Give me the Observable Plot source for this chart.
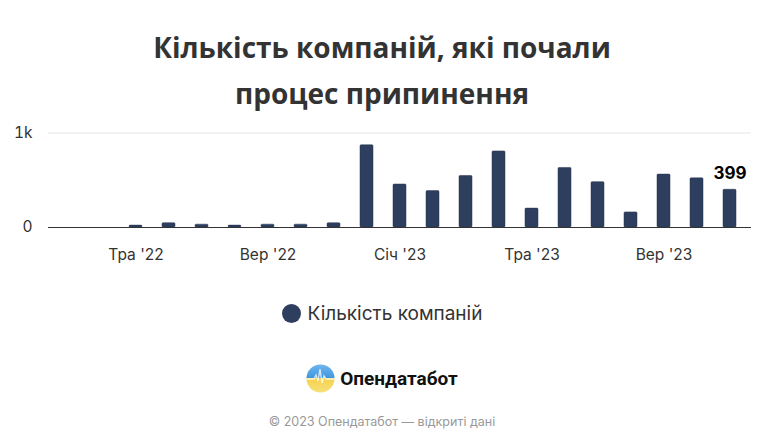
<!DOCTYPE html>
<html>
<head>
<meta charset="utf-8">
<script src="https://cdn.jsdelivr.net/npm/d3@7"></script>
<script src="https://cdn.jsdelivr.net/npm/@observablehq/plot@0.6"></script>
<style>
  html, body { margin: 0; padding: 0; background: #fff; }
  #page { position: relative; width: 764px; height: 446px; overflow: hidden; font-family: Inter, "Noto Sans", sans-serif; }
  .title { position: absolute; left: 0; width: 764px; text-align: center; font-family: "Open Sans", sans-serif; font-weight: 700; font-size: 28px; color: #333; line-height: 34px; }
  #chart { position: absolute; left: 0; top: 110px; }
  #legend { position: absolute; left: 0; width: 764px; top: 301px; text-align: center; font-size: 19px; color: #333; line-height: 26px; }
  #legend .dot { display: inline-block; width: 19px; height: 19px; border-radius: 50%; background: #2e3e5f; vertical-align: -3px; margin-right: 7px; }
  #logo { position: absolute; left: 0; width: 764px; top: 362px; text-align: center; line-height: 30px; }
  #logo svg { vertical-align: middle; margin-right: 5px; }
  #logo span { font-family: Roboto, sans-serif; font-weight: 700; font-size: 19px; color: #111; vertical-align: middle; }
  #footer { position: absolute; left: 0; width: 764px; top: 413px; text-align: center; font-size: 12.5px; color: #999; line-height: 18px; }
</style>
</head>
<body>
<div id="page">
  <div class="title" style="top:30px">Кількість компаній, які почали</div>
  <div class="title" style="top:76px">процес припинення</div>
  <div id="chart"></div>
  <div id="legend"><span class="dot"></span>Кількість компаній</div>
  <div id="logo"><svg width="29" height="29" viewBox="0 0 29 29">
    <defs>
      <linearGradient id="lg" x1="0" y1="0" x2="0" y2="1">
        <stop offset="0" stop-color="#6fb6ef"/>
        <stop offset="0.5" stop-color="#3d95de"/>
        <stop offset="0.5" stop-color="#f5d24c"/>
        <stop offset="1" stop-color="#f7e07a"/>
      </linearGradient>
      <clipPath id="cc"><circle cx="14.5" cy="14.5" r="14"/></clipPath>
    </defs>
    <circle cx="14.5" cy="14.5" r="14" fill="url(#lg)"/>
    <polyline clip-path="url(#cc)" points="0,15 8,15 10,11 12,17 14,5 16,19 18,12 20,15 29,15" fill="none" stroke="#fff" stroke-opacity="0.75" stroke-width="1.4"/>
  </svg><span>Опендатабот</span></div>
  <div id="footer">© 2023 Опендатабот — відкриті дані</div>
</div>
<script>
const months = ["2022-03","2022-04","2022-05","2022-06","2022-07","2022-08","2022-09","2022-10","2022-11","2022-12",
                "2023-01","2023-02","2023-03","2023-04","2023-05","2023-06","2023-07","2023-08","2023-09","2023-10","2023-11"];
const counts = [0, 0, 20, 45, 30, 20, 30, 30, 45, 870,
                455, 385, 545, 805, 200, 630, 480, 160, 560, 520, 399];
const tickMonths = ["2022-05","2022-09","2023-01","2023-05","2023-09"];
const tickLabels = ["Тра '22","Вер '22","Січ '23","Тра '23","Вер '23"];
const yTicks = [0, 1000];
const yTickLabels = ["0", "1k"];
const seriesName = "Кількість компаній";

const data = months.map((m, i) => ({month: m, count: counts[i]}));
const last = data.slice(-1);

const chart = Plot.plot({
  width: 764,
  height: 170,
  marginLeft: 48,
  marginRight: 13,
  marginTop: 22.5,
  marginBottom: 53,
  style: {fontFamily: "Inter, 'Noto Sans', sans-serif", fontSize: "15px", color: "#333", background: "transparent", overflow: "visible"},
  x: {type: "band", domain: months, paddingInner: 0.62, paddingOuter: 0.45},
  y: {domain: [0, 1000]},
  marks: [
    Plot.ruleY([1000], {stroke: "#e6e6e6", strokeWidth: 1}),
    Plot.barY(data, {x: "month", y: "count", fill: "#2e3e5f", stroke: "#26344f", strokeWidth: 0.5, rx: 1}),
    Plot.ruleY([0], {stroke: "#333", strokeWidth: 1}),
    Plot.axisY({ticks: yTicks, tickFormat: d => yTickLabels[yTicks.indexOf(d)], tickSize: 0, tickPadding: 16, label: null, fontSize: 15.5}),
    Plot.axisX({ticks: tickMonths, tickFormat: d => tickLabels[tickMonths.indexOf(d)], tickSize: 0, tickPadding: 21, label: null, fontSize: 15.5}),
    Plot.text(last, {x: "month", y: "count", text: d => String(d.count), dy: -16, fontSize: 17, fontWeight: "bold", fill: "#000", stroke: "#fff", strokeWidth: 2, paintOrder: "stroke"})
  ]
});
document.getElementById("chart").appendChild(chart);
</script>
</body>
</html>
